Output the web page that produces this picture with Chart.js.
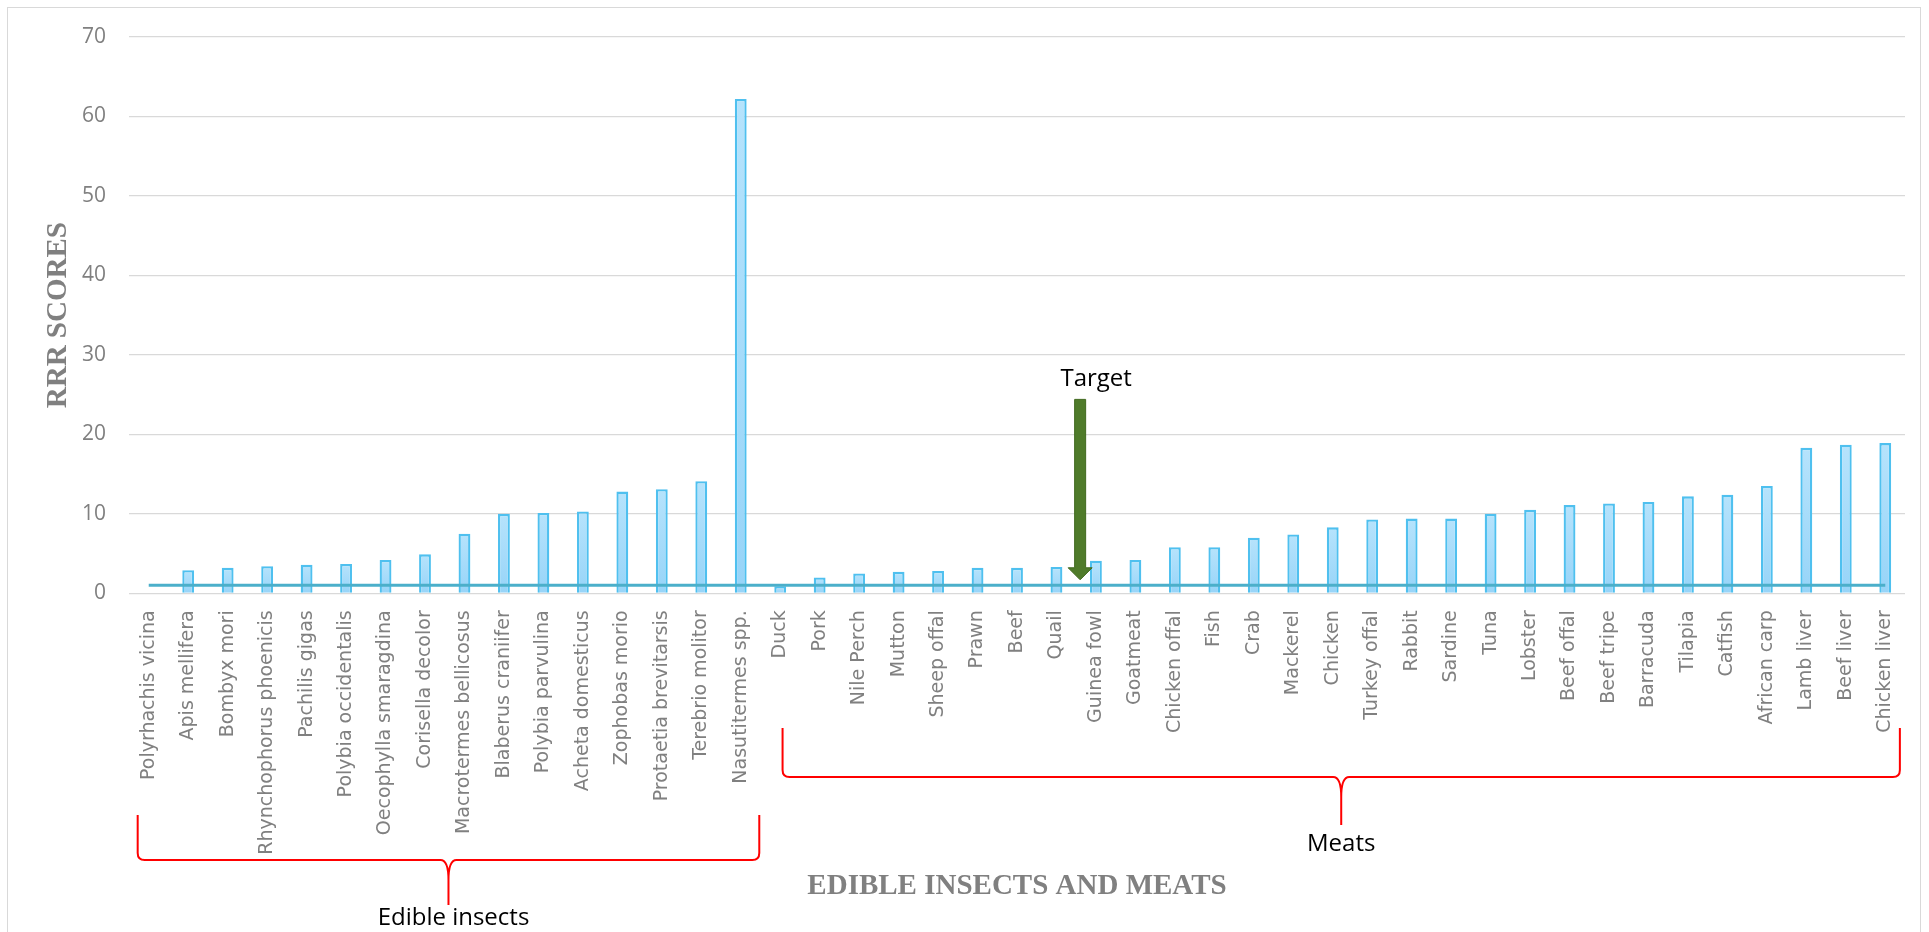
<!DOCTYPE html>
<html>
<head>
<meta charset="utf-8">
<title>RRR scores of edible insects and meats</title>
<script src="https://cdn.jsdelivr.net/npm/chart.js@4/dist/chart.umd.min.js"></script>
<style>
  html, body { margin: 0; padding: 0; background: #ffffff; overflow: hidden; }
  #wrap { position: relative; width: 1929px; height: 932px; }
  #frame { position: absolute; left: 7px; top: 7px; width: 1914px; height: 960px;
           border: 1.5px solid #d9d9d9; box-sizing: border-box; pointer-events: none; }
  canvas { position: absolute; left: 0; top: 0; }
</style>
</head>
<body>
<div id="wrap">
  <div id="frame"></div>
  <canvas id="chart" width="1929" height="932"></canvas>
</div>
<script>
// Edible insects, lowest to highest RRR score
const insectLabels = [
  'Polyrhachis vicina', 'Apis mellifera', 'Bombyx mori', 'Rhynchophorus phoenicis',
  'Pachilis gigas', 'Polybia occidentalis', 'Oecophylla smaragdina', 'Corisella decolor',
  'Macrotermes bellicosus', 'Blaberus craniifer', 'Polybia parvulina', 'Acheta domesticus',
  'Zophobas morio', 'Protaetia brevitarsis', 'Terebrio molitor', 'Nasutitermes spp.'
];
const insectScores = [0, 2.9, 3.2, 3.4, 3.6, 3.7, 4.2, 4.9, 7.5, 10.0, 10.1, 10.3, 12.8, 13.1, 14.1, 62.2];

// Meats, lowest to highest RRR score
const meatLabels = [
  'Duck', 'Pork', 'Nile Perch', 'Mutton', 'Sheep offal', 'Prawn', 'Beef', 'Quail',
  'Guinea fowl', 'Goatmeat', 'Chicken offal', 'Fish', 'Crab', 'Mackerel', 'Chicken',
  'Turkey offal', 'Rabbit', 'Sardine', 'Tuna', 'Lobster', 'Beef offal', 'Beef tripe',
  'Barracuda', 'Tilapia', 'Catfish', 'African carp', 'Lamb liver', 'Beef liver', 'Chicken liver'
];
const meatScores = [0.9, 2.0, 2.5, 2.7, 2.8, 3.2, 3.2, 3.3, 4.1, 4.2, 5.8, 5.8, 7.0, 7.4, 8.3,
  9.3, 9.4, 9.4, 10.0, 10.5, 11.1, 11.3, 11.5, 12.2, 12.4, 13.5, 18.3, 18.7, 18.9];

// Target RRR score drawn as a flat reference line
const targetScore = 1;

// Y axis range
const yMin = 0, yMax = 70, yStep = 10;

const categories = insectLabels.concat(meatLabels);
const scores = insectScores.concat(meatScores);
const targetLine = categories.map(() => targetScore);

// Light-to-deeper blue fill running down each bar
function barFill(c) {
  const flat = '#a6dbf9';
  if (c.type !== 'data' || !c.chart.chartArea) return flat;
  const ys = c.chart.scales.y;
  const yTop = ys.getPixelForValue(c.parsed.y);
  const yBot = ys.getPixelForValue(0);
  if (!(yBot - yTop > 1)) return flat;
  const g = c.chart.ctx.createLinearGradient(0, yTop, 0, yBot);
  g.addColorStop(0, '#b6e3fc');
  g.addColorStop(1, '#97d4f8');
  return g;
}

// Group braces under the category axis
const groupBraces = {
  id: 'groupBraces',
  afterDraw(chart, args, opts) {
    const { ctx } = chart;
    const x = chart.scales.x;
    ctx.save();
    opts.groups.forEach(g => {
      const x0 = x.getPixelForValue(g.from);
      const x1 = x.getPixelForValue(g.to);
      const xc = (x0 + x1) / 2;
      const r = 7, dip = 20, half = 8;
      ctx.strokeStyle = '#ff0000';
      ctx.lineWidth = 2;
      ctx.beginPath();
      ctx.moveTo(x0, g.top);
      ctx.lineTo(x0, g.mid - r);
      ctx.quadraticCurveTo(x0, g.mid, x0 + r, g.mid);
      ctx.lineTo(xc - half, g.mid);
      ctx.quadraticCurveTo(xc, g.mid, xc, g.mid + dip);
      ctx.lineTo(xc, g.tip);
      ctx.moveTo(xc, g.mid + dip);
      ctx.quadraticCurveTo(xc, g.mid, xc + half, g.mid);
      ctx.lineTo(x1 - r, g.mid);
      ctx.quadraticCurveTo(x1, g.mid, x1, g.mid - r);
      ctx.lineTo(x1, g.topRight);
      ctx.stroke();

      ctx.fillStyle = '#000000';
      ctx.font = '24px "Open Sans"';
      ctx.textAlign = 'center';
      ctx.textBaseline = 'alphabetic';
      ctx.fillText(g.label, xc + g.textShift, g.textBase);
    });
    ctx.restore();
  }
};

// Green "Target" arrow pointing at the reference line
const targetArrow = {
  id: 'targetArrow',
  afterDatasetsDraw(chart, args, opts) {
    const { ctx } = chart;
    const xs = chart.scales.x, ys = chart.scales.y;
    const cx = xs.getPixelForValue(opts.at);
    const yTop = ys.getPixelForValue(opts.from);
    const yTip = ys.getPixelForValue(opts.to);
    const shaft = 11, head = 24, headLen = 12;
    ctx.save();
    ctx.fillStyle = '#4f7b2a';
    ctx.strokeStyle = '#41691f';
    ctx.lineWidth = 1;
    ctx.beginPath();
    ctx.moveTo(cx - shaft / 2, yTop);
    ctx.lineTo(cx + shaft / 2, yTop);
    ctx.lineTo(cx + shaft / 2, yTip - headLen);
    ctx.lineTo(cx + head / 2, yTip - headLen);
    ctx.lineTo(cx, yTip);
    ctx.lineTo(cx - head / 2, yTip - headLen);
    ctx.lineTo(cx - shaft / 2, yTip - headLen);
    ctx.closePath();
    ctx.fill();
    ctx.stroke();
    ctx.fillStyle = '#000000';
    ctx.font = '24px "Open Sans"';
    ctx.textAlign = 'center';
    ctx.textBaseline = 'alphabetic';
    ctx.fillText(opts.text, cx + 16, yTop - 13);
    ctx.restore();
  }
};

new Chart(document.getElementById('chart'), {
  type: 'bar',
  data: {
    labels: categories,
    datasets: [
      {
        type: 'line',
        label: 'Target',
        data: targetLine,
        borderColor: '#4bafca',
        borderWidth: 3,
        pointRadius: 0,
        fill: false,
        order: 0
      },
      {
        type: 'bar',
        label: 'RRR score',
        data: scores,
        backgroundColor: barFill,
        borderColor: '#4fc0ef',
        borderWidth: 2.3,
        barPercentage: 0.3,
        categoryPercentage: 1.0,
        order: 1
      }
    ]
  },
  options: {
    responsive: false,
    animation: false,
    layout: { padding: { left: 0, right: 24, top: 37, bottom: 0 } },
    plugins: {
      legend: { display: false },
      tooltip: { enabled: false },
      groupBraces: {
        groups: [
          { label: 'Edible insects', from: -0.28, to: 15.47, top: 815, topRight: 815, mid: 860, tip: 905, textBase: 925, textShift: 5 },
          { label: 'Meats', from: 16.06, to: 44.37, top: 728, topRight: 728, mid: 777, tip: 825, textBase: 851, textShift: 0 }
        ]
      },
      targetArrow: { at: 23.6, from: 24.4, to: 1.7, text: 'Target' }
    },
    scales: {
      x: {
        offset: true,
        grid: { display: false, drawTicks: false },
        border: { display: false },
        ticks: {
          autoSkip: false,
          minRotation: 90,
          maxRotation: 90,
          padding: 17,
          color: '#808080',
          font: { family: '"DejaVu Sans"', size: 19 }
        },
        title: {
          display: true,
          text: 'EDIBLE INSECTS AND MEATS',
          color: '#808080',
          font: { family: '"Liberation Serif"', size: 29, weight: 'bold' },
          padding: { top: 0, bottom: 28 }
        },
        afterFit(scale) { scale.height = 932 - 593.3; }
      },
      y: {
        min: yMin,
        max: yMax,
        ticks: {
          stepSize: yStep,
          padding: 23,
          color: '#808080',
          font: { family: '"Open Sans"', size: 21 }
        },
        grid: { color: '#d9d9d9', lineWidth: 1.3, drawTicks: false },
        border: { display: false },
        title: {
          display: true,
          text: 'RRR SCORES',
          color: '#808080',
          font: { family: '"Liberation Serif"', size: 29, weight: 'bold' },
          padding: { top: 41, bottom: 0 }
        },
        afterFit(scale) { scale.width = 129; }
      }
    }
  },
  plugins: [groupBraces, targetArrow]
});
</script>
</body>
</html>
